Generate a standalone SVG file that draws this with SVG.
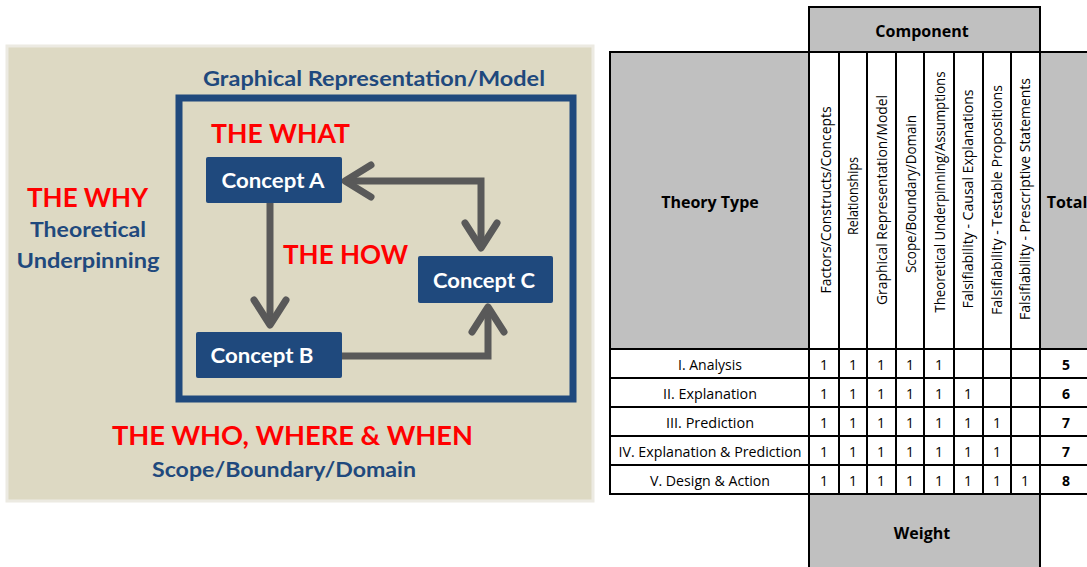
<svg xmlns="http://www.w3.org/2000/svg" width="1087" height="567" viewBox="0 0 1087 567">
  <style>
    .bg { fill: #ffffff; }
    .panel { fill: #DDD9C3; stroke: #ECEAE2; stroke-width: 3; }
    .frame { fill: none; stroke: #1F497D; stroke-width: 7; }
    .node rect { fill: #1F497D; }
    .node text { fill: #ffffff; font-family: Lato, "Open Sans", sans-serif; font-weight: 700; font-size: 21px; text-anchor: middle; }
    .red { fill: #FF0000; font-family: Lato, "Open Sans", sans-serif; font-weight: 700; font-size: 27px; }
    .blue { fill: #1F497D; font-family: Lato, "Open Sans", sans-serif; font-weight: 700; font-size: 20px; text-anchor: middle; }
    .conn { fill: none; stroke: #595959; stroke-width: 7; stroke-linejoin: miter; }
    .head { fill: none; stroke: #595959; stroke-width: 7; stroke-linecap: round; stroke-linejoin: round; }
    .hdr { fill: #C0C0C0; stroke: #000; stroke-width: 2; }
    .cell { fill: #ffffff; stroke: #000; stroke-width: 2; }
    .t { font-family: "Open Sans", Lato, sans-serif; font-size: 14px; fill: #000; text-anchor: middle; }
    .tb { font-family: "Open Sans", Lato, sans-serif; font-size: 16px; font-weight: 700; fill: #000; text-anchor: middle; }
    .v { font-family: "Open Sans", Lato, sans-serif; font-size: 14px; fill: #000; text-anchor: middle; }
    .n { font-family: "Open Sans", Lato, sans-serif; font-size: 14px; fill: #000; text-anchor: middle; }
    .nb { font-family: "Open Sans", Lato, sans-serif; font-size: 14px; font-weight: 700; fill: #000; text-anchor: middle; }
  </style>

  <rect class="bg" x="0" y="0" width="1087" height="567"/>

  <!-- Left panel: theory components model -->
  <rect class="panel" x="7" y="46" width="586" height="455"/>
  <text class="blue" x="374" y="86" textLength="342" lengthAdjust="spacingAndGlyphs">Graphical Representation/Model</text>
  <rect class="frame" x="179" y="98" width="394" height="301"/>

  <text class="red" x="211" y="143" textLength="139" lengthAdjust="spacingAndGlyphs">THE WHAT</text>
  <text class="red" x="27" y="207" textLength="121" lengthAdjust="spacingAndGlyphs">THE WHY</text>
  <text class="blue" x="88" y="237" textLength="116" lengthAdjust="spacingAndGlyphs">Theoretical</text>
  <text class="blue" x="88" y="268" textLength="143" lengthAdjust="spacingAndGlyphs">Underpinning</text>
  <text class="red" x="283" y="264" textLength="125" lengthAdjust="spacingAndGlyphs">THE HOW</text>
  <text class="red" x="112" y="445" textLength="361" lengthAdjust="spacingAndGlyphs">THE WHO, WHERE &amp; WHEN</text>
  <text class="blue" x="284" y="477" textLength="264" lengthAdjust="spacingAndGlyphs">Scope/Boundary/Domain</text>

  <!-- Connectors -->
  <g id="connectors">
    <!-- A to B -->
    <line class="conn" x1="270" y1="203" x2="270" y2="322"/>
    <polyline class="head" points="254,300 270,325 286,300"/>
    <!-- A to C (two-way) -->
    <polyline class="conn" points="346,181 481,181 481,246"/>
    <polyline class="head" points="371,165 345,181 371,197"/>
    <polyline class="head" points="465,223 481,248 497,223"/>
    <!-- B to C -->
    <polyline class="conn" points="340,356 488,356 488,309"/>
    <polyline class="head" points="472,332 488,307 504,332"/>
  </g>

  <g id="concept-a" class="node">
    <rect x="206" y="157" width="136" height="46" rx="2"/>
    <text x="273" y="188" textLength="103" lengthAdjust="spacingAndGlyphs">Concept A</text>
  </g>
  <g id="concept-b" class="node">
    <rect x="196" y="332" width="146" height="46" rx="2"/>
    <text x="262" y="363" textLength="103" lengthAdjust="spacingAndGlyphs">Concept B</text>
  </g>
  <g id="concept-c" class="node">
    <rect x="418" y="256" width="135" height="47" rx="2"/>
    <text x="484" y="288" textLength="102" lengthAdjust="spacingAndGlyphs">Concept C</text>
  </g>

  <!-- Right: weighting table -->
  <g id="table">
    <!-- header blocks -->
    <rect class="hdr" x="809" y="7" width="231" height="45"/>
    <text class="tb" x="922" y="37">Component</text>
    <rect class="hdr" x="610" y="52" width="199" height="297"/>
    <text class="tb" x="710" y="208">Theory Type</text>
    <rect class="hdr" x="1040" y="52" width="50" height="297"/>
    <text class="tb" x="1067" y="208">Total</text>
    <rect class="hdr" x="809" y="494" width="231" height="80"/>
    <text class="tb" x="922" y="539">Weight</text>

    <!-- rotated component headers -->
    <rect class="cell" x="809" y="52" width="231" height="297"/>
    <g stroke="#000" stroke-width="2">
      <line x1="839" y1="52" x2="839" y2="494"/>
      <line x1="867" y1="52" x2="867" y2="494"/>
      <line x1="896" y1="52" x2="896" y2="494"/>
      <line x1="924" y1="52" x2="924" y2="494"/>
      <line x1="954" y1="52" x2="954" y2="494"/>
      <line x1="983" y1="52" x2="983" y2="494"/>
      <line x1="1011" y1="52" x2="1011" y2="494"/>
    </g>
    <text class="v" transform="translate(831,200) rotate(-90)" textLength="187" lengthAdjust="spacingAndGlyphs">Factors/Constructs/Concepts</text>
    <text class="v" transform="translate(858,196) rotate(-90)" textLength="78" lengthAdjust="spacingAndGlyphs">Relationships</text>
    <text class="v" transform="translate(887,200) rotate(-90)" textLength="210" lengthAdjust="spacingAndGlyphs">Graphical Representation/Model</text>
    <text class="v" transform="translate(916,194) rotate(-90)" textLength="158" lengthAdjust="spacingAndGlyphs">Scope/Boundary/Domain</text>
    <text class="v" transform="translate(945,192) rotate(-90)" textLength="241" lengthAdjust="spacingAndGlyphs">Theoretical Underpinning/Assumptions</text>
    <text class="v" transform="translate(973,199) rotate(-90)" textLength="219" lengthAdjust="spacingAndGlyphs">Falsifiability - Causal Explanations</text>
    <text class="v" transform="translate(1002,200) rotate(-90)" textLength="230" lengthAdjust="spacingAndGlyphs">Falsifiability - Testable Propositions</text>
    <text class="v" transform="translate(1030,199) rotate(-90)" textLength="242" lengthAdjust="spacingAndGlyphs">Falsifiability - Prescriptive Statements</text>

    <!-- body rows -->
    <g fill="none" stroke="#000" stroke-width="2">
      <rect x="610" y="349" width="480" height="145"/>
      <line x1="610" y1="378" x2="1087" y2="378"/>
      <line x1="610" y1="407" x2="1087" y2="407"/>
      <line x1="610" y1="436" x2="1087" y2="436"/>
      <line x1="610" y1="465" x2="1087" y2="465"/>
      <line x1="809" y1="349" x2="809" y2="494"/>
      <line x1="1040" y1="349" x2="1040" y2="494"/>
      <line x1="610" y1="52" x2="1087" y2="52"/>
    </g>

    <text class="t" x="710" y="370" textLength="64" lengthAdjust="spacingAndGlyphs">I. Analysis</text>
    <text class="t" x="710" y="399" textLength="94" lengthAdjust="spacingAndGlyphs">II. Explanation</text>
    <text class="t" x="710" y="428" textLength="88" lengthAdjust="spacingAndGlyphs">III. Prediction</text>
    <text class="t" x="710" y="457" textLength="183" lengthAdjust="spacingAndGlyphs">IV. Explanation &amp; Prediction</text>
    <text class="t" x="710" y="486" textLength="120" lengthAdjust="spacingAndGlyphs">V. Design &amp; Action</text>

    <g class="n">
      <text x="824" y="370">1</text><text x="853" y="370">1</text><text x="881" y="370">1</text><text x="910" y="370">1</text><text x="939" y="370">1</text>
      <text x="824" y="399">1</text><text x="853" y="399">1</text><text x="881" y="399">1</text><text x="910" y="399">1</text><text x="939" y="399">1</text><text x="968" y="399">1</text>
      <text x="824" y="428">1</text><text x="853" y="428">1</text><text x="881" y="428">1</text><text x="910" y="428">1</text><text x="939" y="428">1</text><text x="968" y="428">1</text><text x="997" y="428">1</text>
      <text x="824" y="457">1</text><text x="853" y="457">1</text><text x="881" y="457">1</text><text x="910" y="457">1</text><text x="939" y="457">1</text><text x="968" y="457">1</text><text x="997" y="457">1</text>
      <text x="824" y="486">1</text><text x="853" y="486">1</text><text x="881" y="486">1</text><text x="910" y="486">1</text><text x="939" y="486">1</text><text x="968" y="486">1</text><text x="997" y="486">1</text><text x="1025" y="486">1</text>
    </g>
    <text class="nb" x="1066" y="370">5</text>
    <text class="nb" x="1066" y="399">6</text>
    <text class="nb" x="1066" y="428">7</text>
    <text class="nb" x="1066" y="457">7</text>
    <text class="nb" x="1066" y="486">8</text>
  </g>
</svg>
